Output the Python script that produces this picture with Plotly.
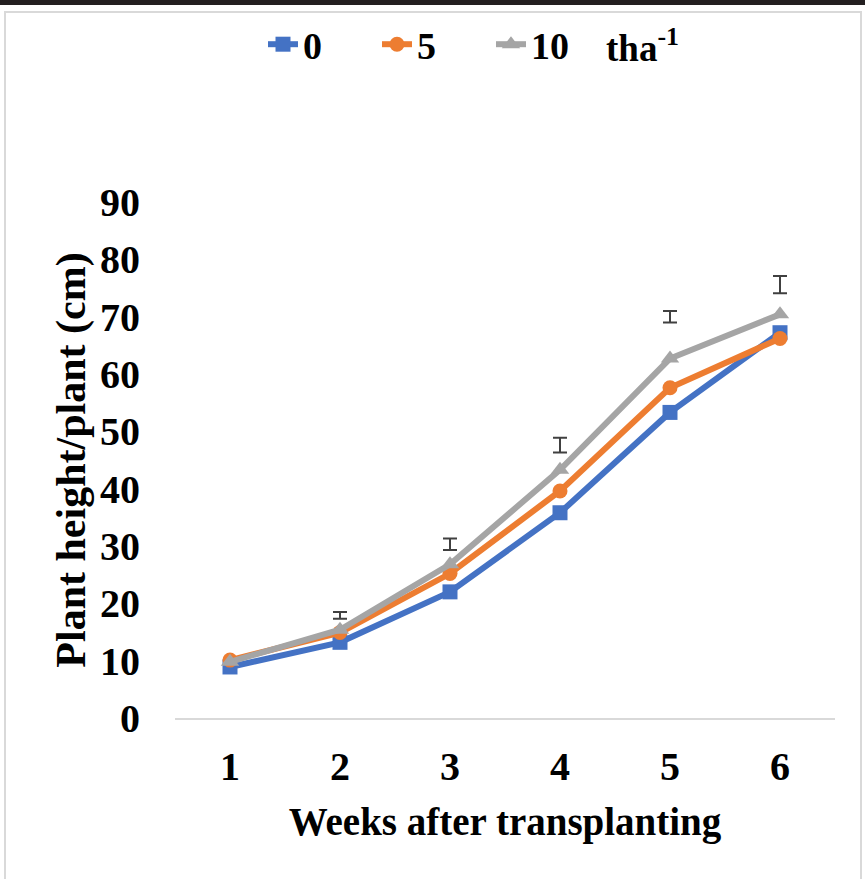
import plotly.graph_objects as go

weeks = [1, 2, 3, 4, 5, 6]
week_labels = ["1", "2", "3", "4", "5", "6"]
rate_0 = [8.9, 13.2, 22.0, 35.8, 53.3, 67.2]
rate_5 = [10.1, 14.9, 25.2, 39.6, 57.6, 66.2]
rate_10 = [9.8, 15.4, 26.8, 43.3, 62.7, 70.4]
lsd_weeks = [2, 3, 4, 5, 6]
lsd_center = [17.9, 30.3, 47.6, 70.0, 75.6]
lsd_half = [0.6, 1.0, 1.3, 1.0, 1.5]
y_ticks = [0, 10, 20, 30, 40, 50, 60, 70, 80, 90]

FONT = "Liberation Serif"
W, H = 865, 879
L, R, T, B = 175, 30, 202, 161
pw, ph = W - L - R, H - T - B


def px2x(p):
    return (p - L) / pw


def px2y(p):
    return (H - B - p) / ph


fig = go.Figure()
fig.add_trace(go.Scatter(x=weeks, y=rate_0, name="0", mode="lines+markers",
                         line=dict(color="#4472C4", width=6),
                         marker=dict(symbol="square", size=15, color="#4472C4")))
fig.add_trace(go.Scatter(x=weeks, y=rate_5, name="5", mode="lines+markers",
                         line=dict(color="#ED7D31", width=6),
                         marker=dict(symbol="circle", size=15, color="#ED7D31")))
fig.add_trace(go.Scatter(x=weeks, y=rate_10, name="10", mode="lines+markers",
                         line=dict(color="#A5A5A5", width=6),
                         marker=dict(symbol="triangle-up", size=16, color="#A5A5A5")))
fig.add_trace(go.Scatter(x=lsd_weeks, y=lsd_center, mode="markers", showlegend=False,
                         marker=dict(size=1, opacity=0),
                         error_y=dict(type="data", array=lsd_half, visible=True,
                                      color="#404040", thickness=2, width=7)))

fig.update_layout(
    width=W, height=H,
    margin=dict(l=L, r=R, t=T, b=B),
    paper_bgcolor="white", plot_bgcolor="white",
    font=dict(family=FONT, color="black", weight="bold"),
    showlegend=True,
    legend=dict(orientation="h", x=px2x(263), y=px2y(13), xanchor="left", yanchor="top",
                font=dict(family=FONT, size=38, color="black", weight="bold"),
                itemwidth=30, entrywidth=69, traceorder="normal", bgcolor="rgba(0,0,0,0)"),
    xaxis=dict(range=[0.5, 6.5], tickmode="array", tickvals=weeks, ticktext=week_labels,
               showgrid=False, zeroline=False, showline=True, linecolor="#D9D9D9", linewidth=2,
               ticks="", ticklabelstandoff=12,
               tickfont=dict(family=FONT, size=40, color="black", weight="bold"),
               title=dict(text="Weeks after transplanting", standoff=20,
                          font=dict(family=FONT, size=39, color="black", weight="bold"))),
    yaxis=dict(range=[0, 90], tickmode="array", tickvals=y_ticks,
               showgrid=False, zeroline=False, showline=False, ticks="",
               ticklabelstandoff=34,
               tickfont=dict(family=FONT, size=40, color="black", weight="bold"),
               title=dict(text="Plant height/plant (cm)", standoff=1,
                          font=dict(family=FONT, size=42, color="black", weight="bold"))),
    annotations=[dict(text="tha<sup>-1</sup>", xref="paper", yref="paper",
                      x=px2x(604), y=px2y(46), xanchor="left", yanchor="middle",
                      showarrow=False,
                      font=dict(family=FONT, size=37, color="black", weight="bold"))],
    shapes=[
        dict(type="rect", xref="paper", yref="paper", x0=px2x(0), x1=px2x(W), y0=px2y(0), y1=px2y(5),
             fillcolor="#231F20", line=dict(width=0), layer="below"),
        dict(type="rect", xref="paper", yref="paper", x0=px2x(5), x1=px2x(861), y0=px2y(12), y1=px2y(900),
             fillcolor="rgba(0,0,0,0)", line=dict(color="#D9D9D9", width=2), layer="below"),
    ],
)

fig.write_html("out.html", config={"displayModeBar": False},
               post_script="document.body.style.margin='0px';")
